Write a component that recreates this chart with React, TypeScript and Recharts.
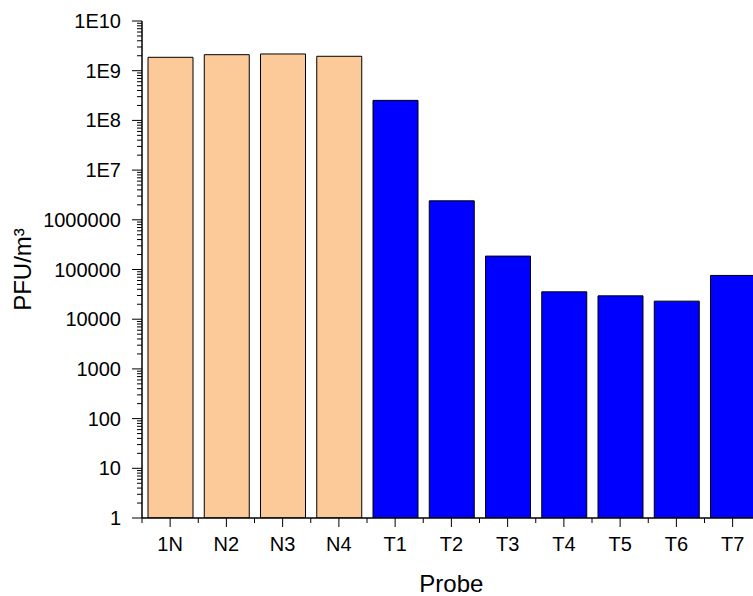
import React from "react";
import { BarChart, Bar, Cell, XAxis, YAxis } from "recharts";

// samples and measured concentrations
const probes = ["1N", "N2", "N3", "N4", "T1", "T2", "T3", "T4", "T5", "T6", "T7"];
const pfu = [1.86e9, 2.1e9, 2.17e9, 1.95e9, 2.53e8, 2.41e6, 1.86e5, 3.55e4, 2.95e4, 2.31e4, 7.6e4];
const probeGroup = ["N", "N", "N", "N", "T", "T", "T", "T", "T", "T", "T"];

const decades = [1, 10, 100, 1e3, 1e4, 1e5, 1e6, 1e7, 1e8, 1e9, 1e10];
const decadeLabels = ["1", "10", "100", "1000", "10000", "100000", "1000000", "1E7", "1E8", "1E9", "1E10"];
const minorSteps = [2, 3, 4, 5, 6, 7, 8, 9];

const groupFill: Record<string, string> = { N: "#FCC999", T: "#0000FF" };

const data = probes.map((probe, i) => ({ probe, pfu: pfu[i], group: probeGroup[i] }));

const FONT = '"Liberation Sans", Arial, Helvetica, sans-serif';
const CHART_W = 780;
const CHART_H = 596;
const TOP = 21;
const X_AXIS_H = 78;
const Y_AXIS_W = 142;
const BAND = 56.25;
const RIGHT = CHART_W - Y_AXIS_W - BAND * probes.length;
// pixel height of one decade on the log axis, for the minor ticks
const DECADE = (CHART_H - TOP - X_AXIS_H) / (decades.length - 1);

const renderYTick = (props: any) => {
  const { x, y, payload } = props;
  const idx = decades.indexOf(payload.value);
  const minors = idx < decades.length - 1 ? minorSteps : [];
  return (
    <g key={`yt-${payload.value}`}>
      <line x1={x - 10} x2={x} y1={y} y2={y} stroke="#000" strokeWidth={1} />
      {minors.map((k) => {
        const my = y - Math.log10(k) * DECADE;
        return <line key={k} x1={x - 5} x2={x} y1={my} y2={my} stroke="#000" strokeWidth={1} />;
      })}
      <text x={x - 21} y={y + 7} textAnchor="end" style={{ fontSize: 20, fontFamily: FONT }} fill="#000">
        {decadeLabels[idx]}
      </text>
    </g>
  );
};

const renderXTick = (props: any) => {
  const { x, y, payload, index } = props;
  const last = index === probes.length - 1;
  return (
    <g key={`xt-${payload.value}`}>
      <line x1={x} x2={x} y1={y} y2={y + 9} stroke="#000" strokeWidth={1} />
      <line x1={x - BAND / 2} x2={x - BAND / 2} y1={y} y2={y + 5} stroke="#000" strokeWidth={1} />
      {last && (
        <line x1={x + BAND / 2} x2={x + BAND / 2} y1={y} y2={y + 5} stroke="#000" strokeWidth={1} />
      )}
      <text x={x} y={y + 33} textAnchor="middle" style={{ fontSize: 20, fontFamily: FONT }} fill="#000">
        {payload.value}
      </text>
    </g>
  );
};

export default function App() {
  return (
    <div
      style={{
        position: "fixed",
        left: 0,
        top: 0,
        width: 753,
        height: 596,
        overflow: "hidden",
        background: "#fff",
      }}
    >
      <BarChart
        width={CHART_W}
        height={CHART_H}
        data={data}
        margin={{ top: TOP, right: RIGHT, bottom: 0, left: 0 }}
        barSize={45}
      >
        <XAxis
          dataKey="probe"
          height={X_AXIS_H}
          interval={0}
          tickSize={0}
          tickMargin={0}
          tick={renderXTick}
          axisLine={{ stroke: "#000", strokeWidth: 1.5 }}
          label={{
            value: "Probe",
            position: "insideBottom",
            offset: 4,
            style: { fontSize: 24, fontFamily: FONT, fill: "#000" },
          }}
        />
        <YAxis
          type="number"
          scale="log"
          domain={[1, 1e10]}
          allowDataOverflow
          ticks={decades}
          interval={0}
          width={Y_AXIS_W}
          tickSize={0}
          tickMargin={0}
          tick={renderYTick}
          axisLine={{ stroke: "#000", strokeWidth: 1.5 }}
          label={{
            value: "PFU/m³",
            angle: -90,
            position: "insideLeft",
            offset: 22,
            style: { fontSize: 24, fontFamily: FONT, fill: "#000", textAnchor: "middle" },
          }}
        />
        <Bar dataKey="pfu" stroke="#000" strokeWidth={1} isAnimationActive={false}>
          {data.map((d) => (
            <Cell key={d.probe} fill={groupFill[d.group]} />
          ))}
        </Bar>
      </BarChart>
    </div>
  );
}
